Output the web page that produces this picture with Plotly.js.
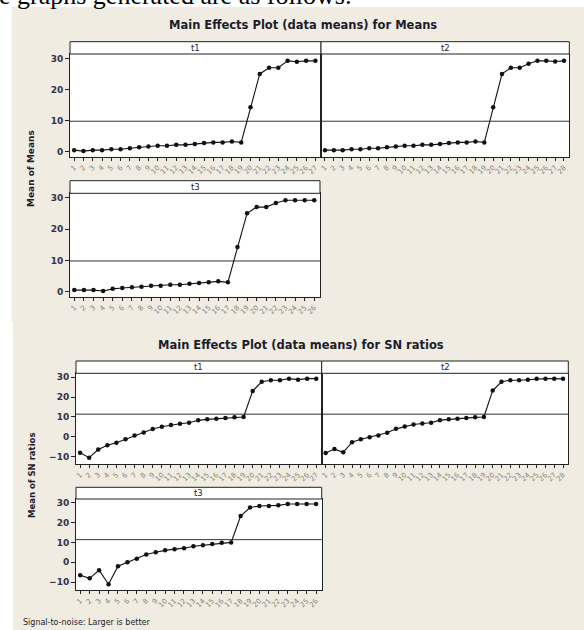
<!DOCTYPE html>
<html><head><meta charset="utf-8">
<script src="https://cdn.plot.ly/plotly-3.0.1.min.js"></script>
<style>html,body{margin:0;padding:0;background:#fff}#chart{width:584px;height:630px}</style>
</head><body><div id="chart"></div>
<script>
// ---------- data ----------
const levelsT1 = ["1","2","3","4","5","6","7","8","9","10","11","12","13","14","15","16","17","18","19","20","21","22","23","24","25","26","27"];
const levelsT2 = ["1","2","3","4","5","6","7","8","9","10","11","12","13","14","15","16","17","18","19","20","21","22","23","24","25","26","27","28"];
const levelsT3 = ["1","2","3","4","5","6","7","8","9","10","11","12","13","14","15","16","17","18","19","20","21","22","23","24","25","26"];

const meansT1 = [0.5,0.2,0.5,0.5,0.8,0.8,1.1,1.4,1.7,1.9,1.9,2.2,2.2,2.5,2.8,3.0,3.0,3.3,3.0,14.3,25.0,27.0,27.0,29.2,28.9,29.2,29.2];
const meansT2 = [0.5,0.5,0.5,0.8,0.8,1.1,1.1,1.4,1.7,1.9,1.9,2.2,2.2,2.5,2.8,3.0,3.0,3.3,3.0,14.3,25.0,27.0,27.0,28.3,29.2,29.2,29.0,29.2];
const meansT3 = [0.5,0.5,0.5,0.2,0.9,1.2,1.4,1.6,1.9,1.9,2.2,2.2,2.5,2.8,3.0,3.3,3.0,14.3,25.0,27.0,27.0,28.3,29.2,29.2,29.2,29.2];

const snT1 = [-8.0,-10.5,-6.4,-4.2,-3.0,-1.2,0.7,2.2,3.9,5.1,5.9,6.6,7.1,8.3,8.8,9.1,9.5,9.8,10.0,23.1,27.7,28.5,28.5,29.3,28.8,29.3,29.3];
const snT2 = [-8.1,-6.2,-7.8,-2.7,-1.2,-0.2,0.7,2.0,4.0,5.2,6.2,6.7,7.1,8.4,8.8,9.1,9.5,9.8,10.0,23.3,27.7,28.5,28.5,28.8,29.3,29.3,29.3,29.2];
const snT3 = [-6.6,-8.1,-4.0,-11.1,-2.0,0.0,1.8,3.9,5.0,6.0,6.6,7.1,8.1,8.6,9.2,9.8,10.0,23.3,27.6,28.4,28.4,28.7,29.4,29.4,29.4,29.4];

const meansGrand = 9.8;
const snGrand = 11.4;

const panelNames = ["t1","t2","t3"];
const meansTicks = [0,10,20,30];
const snTicks = [-10,0,10,20,30];
const titleMeans = "Main Effects Plot (data means) for Means";
const titleSN = "Main Effects Plot (data means) for SN ratios";
const yTitleMeans = "Mean of Means";
const yTitleSN = "Mean of SN ratios";
const footNote = "Signal-to-noise: Larger is better";
const pageText = "e graphs generated are as follows:";

// ---------- layout helpers ----------
const W = 584, H = 630;
const px = v => v / W;
const py = v => 1 - v / H;

const panels = [
  {x:[70,321],     y:[54,156.7],  strip:41.7,  lv:levelsT1, v:meansT1, name:panelNames[0], ylab:true,  mean:meansGrand, yr:[-1.6,31.4], tv:meansTicks},
  {x:[321,569.3],  y:[54,156.7],  strip:41.7,  lv:levelsT2, v:meansT2, name:panelNames[1], ylab:false, mean:meansGrand, yr:[-1.6,31.4], tv:meansTicks},
  {x:[70,320],     y:[193.3,296.7],strip:180.7,lv:levelsT3, v:meansT3, name:panelNames[2], ylab:true,  mean:meansGrand, yr:[-1.6,31.4], tv:meansTicks},
  {x:[76,321.7],   y:[373.3,464], strip:361,   lv:levelsT1, v:snT1,    name:panelNames[0], ylab:true,  mean:snGrand,    yr:[-13.7,32], tv:snTicks},
  {x:[321.7,568.3],y:[373.3,464], strip:361,   lv:levelsT2, v:snT2,    name:panelNames[1], ylab:false, mean:snGrand,    yr:[-13.7,32], tv:snTicks},
  {x:[76,321.7],   y:[499,590],   strip:487.3, lv:levelsT3, v:snT3,    name:panelNames[2], ylab:true,  mean:snGrand,    yr:[-14,31.9], tv:snTicks}
];

const BEIGE = '#F0ECE2';
const traces = [];
const layout = {
  width: W, height: H,
  margin: {l:0, r:0, t:0, b:0},
  paper_bgcolor: BEIGE,
  plot_bgcolor: '#ffffff',
  showlegend: false,
  font: {family: 'DejaVu Sans, sans-serif', color: '#222'},
  shapes: [
    {type:'rect', xref:'paper', yref:'paper', x0:0, x1:1, y0:py(7), y1:1, fillcolor:'#fff', line:{width:0}, layer:'below'},
    {type:'rect', xref:'paper', yref:'paper', x0:0, x1:px(11.5), y0:py(322), y1:1, fillcolor:'#fff', line:{width:0}, layer:'below'},
    {type:'rect', xref:'paper', yref:'paper', x0:0, x1:px(13), y0:0, y1:py(322), fillcolor:'#fff', line:{width:0}, layer:'below'}
  ],
  annotations: [
    {text: pageText, xref:'paper', yref:'paper', x:px(-3), y:py(12), xanchor:'left', yanchor:'bottom', showarrow:false,
     font:{family:'Liberation Serif, serif', size:26, color:'#000'}},
    {text: titleMeans, xref:'paper', yref:'paper', x:px(303), y:py(25), xanchor:'center', yanchor:'middle', showarrow:false,
     font:{family:'DejaVu Sans, sans-serif', size:11.5, weight:'bold', color:'#1c1c2c'}},
    {text: titleSN, xref:'paper', yref:'paper', x:px(301), y:py(345), xanchor:'center', yanchor:'middle', showarrow:false,
     font:{family:'DejaVu Sans, sans-serif', size:11.5, weight:'bold', color:'#1c1c2c'}},
    {text: yTitleMeans, xref:'paper', yref:'paper', x:px(31), y:py(169), xanchor:'center', yanchor:'middle', textangle:-90, showarrow:false,
     font:{family:'DejaVu Sans, sans-serif', size:9, weight:'bold', color:'#1c1c2c'}},
    {text: yTitleSN, xref:'paper', yref:'paper', x:px(32), y:py(476), xanchor:'center', yanchor:'middle', textangle:-90, showarrow:false,
     font:{family:'DejaVu Sans, sans-serif', size:8.5, weight:'bold', color:'#1c1c2c'}},
    {text: footNote, xref:'paper', yref:'paper', x:px(21), y:py(622.5), xanchor:'left', yanchor:'middle', showarrow:false,
     font:{family:'DejaVu Sans, sans-serif', size:8, color:'#222'}}
  ]
};

panels.forEach((p, i) => {
  const n = i === 0 ? '' : String(i + 1);
  const xa = 'xaxis' + n, ya = 'yaxis' + n;
  const xr = 'x' + n, yr = 'y' + n;
  traces.push({
    type:'scatter', mode:'lines+markers', x:p.lv, y:p.v, xaxis:xr, yaxis:yr,
    line:{color:'#111', width:1.1}, marker:{color:'#111', size:4.5, symbol:'circle'},
    hoverinfo:'skip'
  });
  layout[xa] = {
    domain:[px(p.x[0]), px(p.x[1])], anchor:yr, type:'category',
    range:[-0.45, p.lv.length - 0.4],
    showline:true, mirror:true, linecolor:'#222', linewidth:1,
    showgrid:false, zeroline:false,
    ticks:'outside', ticklen:3, tickwidth:1, tickcolor:'#222',
    tickangle:-45, tickfont:{size:7, color:'#8a8478'},
    tickvals:p.lv, ticktext:p.lv
  };
  layout[ya] = {
    domain:[py(p.y[1]), py(p.y[0])], anchor:xr,
    range:p.yr,
    showline:true, mirror:true, linecolor:'#222', linewidth:1,
    showgrid:false, zeroline:false,
    tickvals:p.tv,
    ticks: p.ylab ? 'outside' : '', ticklen:4, tickcolor:'#222',
    showticklabels:p.ylab,
    tickfont:{size:9, weight:'bold', color:'#33334a'}
  };
  // strip
  layout.shapes.push({type:'rect', xref:'paper', yref:'paper',
    x0:px(p.x[0]), x1:px(p.x[1]), y0:py(p.y[0]), y1:py(p.strip),
    fillcolor:'#fff', line:{color:'#222', width:1}});
  layout.annotations.push({text:p.name, xref:'paper', yref:'paper',
    x:px((p.x[0]+p.x[1])/2), y:py((p.strip+p.y[0])/2), xanchor:'center', yanchor:'middle', showarrow:false,
    font:{size:8.5, color:'#1c1c3c'}});
  // grand mean reference line
  layout.shapes.push({type:'line', xref:xr + ' domain', yref:yr, x0:0, x1:1, y0:p.mean, y1:p.mean,
    line:{color:'#333', width:1}, layer:'below'});
});

Plotly.newPlot('chart', traces, layout, {staticPlot:true, displayModeBar:false});
</script>
</body></html>
